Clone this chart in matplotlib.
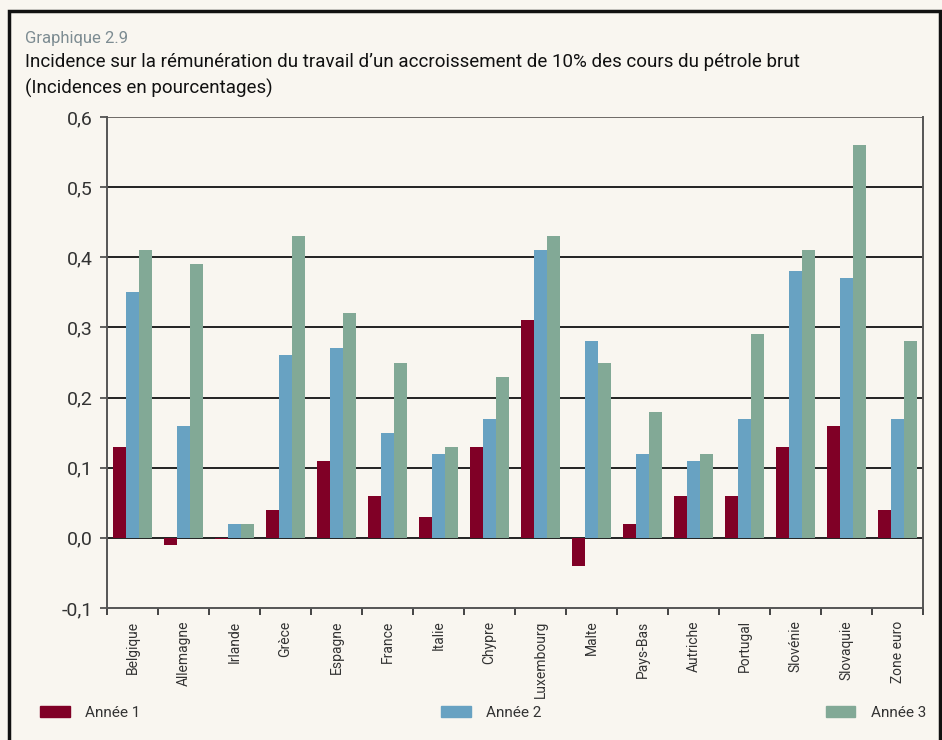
import numpy as np
import matplotlib.pyplot as plt
from matplotlib.patches import Patch, Rectangle

plt.rcParams["font.family"] = ["Roboto", "DejaVu Sans"]

pays = ["Belgique", "Allemagne", "Irlande", "Grèce", "Espagne", "France", "Italie",
        "Chypre", "Luxembourg", "Malte", "Pays-Bas", "Autriche", "Portugal",
        "Slovénie", "Slovaquie", "Zone euro"]
annee1 = [0.13, -0.01, -0.002, 0.04, 0.11, 0.06, 0.03, 0.13, 0.31, -0.04, 0.02, 0.06, 0.06, 0.13, 0.16, 0.04]
annee2 = [0.35, 0.16, 0.02, 0.26, 0.27, 0.15, 0.12, 0.17, 0.41, 0.28, 0.12, 0.11, 0.17, 0.38, 0.37, 0.17]
annee3 = [0.41, 0.39, 0.02, 0.43, 0.32, 0.25, 0.13, 0.23, 0.43, 0.25, 0.18, 0.12, 0.29, 0.41, 0.56, 0.28]
series = ["Année 1", "Année 2", "Année 3"]
couleurs = ["#800026", "#68a2c2", "#82a996"]
fond = "#f9f6f0"

fig = plt.figure(figsize=(9.42, 7.40), dpi=100, facecolor=fond)
ax = fig.add_axes([107 / 942, 1 - 608 / 740, 816 / 942, 491 / 740])
ax.set_facecolor(fond)

x = np.arange(len(pays))
w = 0.255
for i, (vals, c) in enumerate(zip([annee1, annee2, annee3], couleurs)):
    ax.bar(x + (i - 1) * w, vals, width=w, color=c, zorder=3)

ax.set_xlim(-0.5, len(pays) - 0.5)
ax.set_ylim(-0.1, 0.6)
yt = np.arange(-0.1, 0.61, 0.1)
ax.set_yticks(yt)
ax.set_yticklabels([f"{v:.1f}".replace(".", ",") for v in yt], fontsize=14, color="#333333")
for v in yt[1:]:
    ax.axhline(v, color="#6e6a66" if v > 0.55 else "#222222", lw=1.4, zorder=1)

ax.set_xticks(np.arange(len(pays) + 1) - 0.5)
ax.set_xticklabels([])
ax.set_xticks(x, minor=True)
ax.set_xticklabels(pays, minor=True, rotation=90, fontsize=10, color="#333333", va="top")
ax.tick_params(axis="x", which="minor", length=0, pad=9)
ax.tick_params(axis="x", which="major", length=5, width=1.4, color="#444444", direction="out")
ax.tick_params(axis="y", length=5, width=1.2, color="#444444", pad=5)

for s in ["left", "bottom", "right"]:
    ax.spines[s].set_color("#555555")
    ax.spines[s].set_linewidth(1.4)
ax.spines["top"].set_visible(False)

fig.text(25 / 942, 1 - 38 / 740, "Graphique 2.9", fontsize=12, color="#7d8c92", va="center")
fig.text(25 / 942, 1 - 62 / 740,
         "Incidence sur la rémunération du travail d’un accroissement de 10% des cours du pétrole brut",
         fontsize=13.5, color="#111111", va="center")
fig.text(25 / 942, 1 - 88 / 740, "(Incidences en pourcentages)", fontsize=13.5, color="#111111", va="center")

ancres = [(40 / 942, "center left"), (441 / 942, "center left"), (926 / 942, "center right")]
for nom, c, (ax_x, loc) in zip(series, couleurs, ancres):
    leg = fig.legend(handles=[Patch(color=c, label=nom)], loc=loc,
                     bbox_to_anchor=(ax_x, 1 - 713 / 740), frameon=False, fontsize=11,
                     handlelength=1.95, handleheight=0.75, handletextpad=1.0,
                     borderpad=0, borderaxespad=0)
    for t in leg.get_texts():
        t.set_color("#333333")

fig.patches.append(Rectangle((9 / 942, -0.05), 931 / 942, 1 - 11 / 740 + 0.05,
                             transform=fig.transFigure, fill=False, edgecolor="#111111", lw=2.5))

fig.savefig("out.png", dpi=100, facecolor=fond)
